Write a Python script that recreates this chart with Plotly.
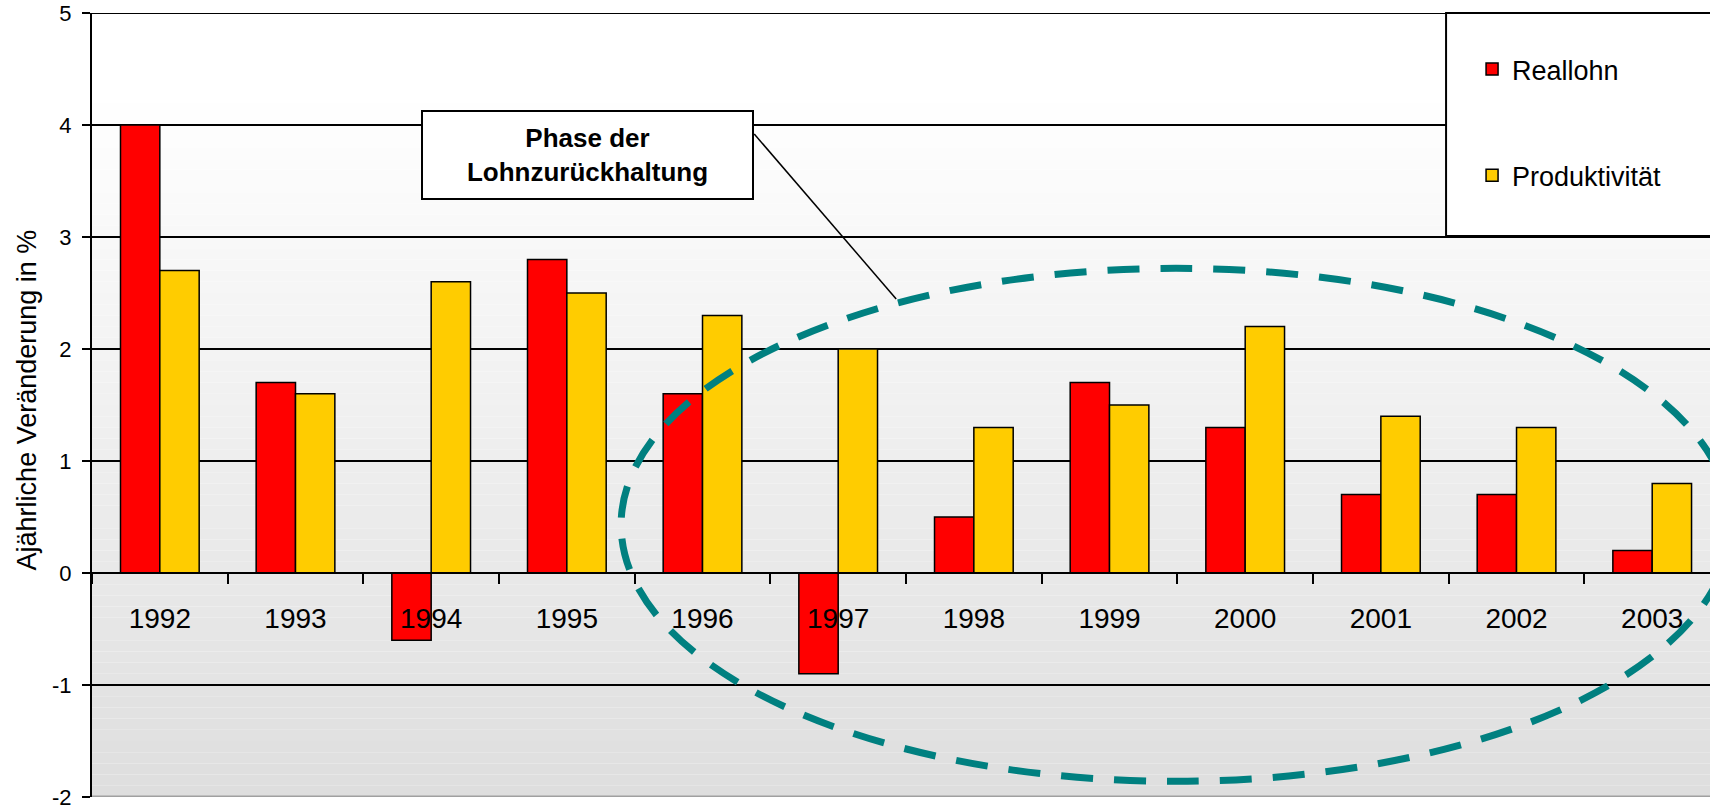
import plotly.graph_objects as go

years = ["1992", "1993", "1994", "1995", "1996", "1997", "1998", "1999", "2000", "2001", "2002", "2003"]
reallohn = [4.0, 1.7, -0.6, 2.8, 1.6, -0.9, 0.5, 1.7, 1.3, 0.7, 0.7, 0.2]
produktivitaet = [2.7, 1.6, 2.6, 2.5, 2.3, 2.0, 1.3, 1.5, 2.2, 1.4, 1.3, 0.8]
y_ticks = [-2, -1, 0, 1, 2, 3, 4, 5]

FONT = "Liberation Sans, Arial, sans-serif"
OFF = 0  # page body margin removed via post_script
W, H = 1710, 809
L, T, B, R = 91.6, 13, 12, 0
PW = W - L - R
PH = H - T - B


def px(xs):
    """screen x (reference pixels) -> paper fraction"""
    return (xs - OFF - L) / PW


def py(ys):
    """screen y (reference pixels) -> paper fraction"""
    return (H - B - (ys - OFF)) / PH


fig = go.Figure()
fig.add_trace(go.Bar(
    x=years, y=reallohn, name="Reallohn", legendgroup="a",
    marker=dict(color="#ff0000", line=dict(color="black", width=1.5)),
))
fig.add_trace(go.Bar(
    x=years, y=produktivitaet, name="Produktivität", legendgroup="b",
    marker=dict(color="#ffcc00", line=dict(color="black", width=1.5)),
))

shapes = []
# background gradient (white at top to light grey at bottom)
n = 70
ymin, ymax = -2.0, 5.0
for i in range(n):
    y0 = ymin + (ymax - ymin) * i / n
    y1 = ymin + (ymax - ymin) * (i + 1) / n
    ym = (y0 + y1) / 2
    frac = min(1.0, max(0.0, (ym - ymin) / (4.3 - ymin)))  # 0 bottom .. 1 near top
    c = int(round(222 + (255 - 222) * frac))
    shapes.append(dict(type="rect", xref="x domain", yref="y", x0=0, x1=1, y0=y0, y1=y1,
                       fillcolor=f"rgb({c},{c},{c})", line=dict(width=0), layer="below"))

# top and bottom borders of plot area
shapes.append(dict(type="line", xref="x domain", yref="y", x0=0, x1=1, y0=5, y1=5,
                   line=dict(color="black", width=2), layer="above"))
shapes.append(dict(type="line", xref="x domain", yref="y", x0=0, x1=1, y0=-2, y1=-2,
                   line=dict(color="#a0a0a0", width=3), layer="above"))

# dashed ellipse
shapes.append(dict(type="circle", xref="x", yref="y", x0=3.40, x1=11.58, y0=-1.86, y1=2.72,
                   line=dict(color="#008080", width=7, dash="32px,21px"), layer="above"))

# connector line from annotation box
shapes.append(dict(type="line", xref="paper", yref="paper",
                   x0=px(754), y0=py(134), x1=px(896), y1=py(299),
                   line=dict(color="black", width=1.5)))

# legend box
shapes.append(dict(type="rect", xref="paper", yref="paper",
                   x0=px(1446), x1=px(1725), y0=py(236), y1=py(13),
                   fillcolor="white", line=dict(color="black", width=2), layer="above"))

annotations = [
    dict(text="<b>Phase der</b><br><b>Lohnzurückhaltung</b>", xref="paper", yref="paper",
         x=px(587.5), y=py(155), xanchor="center", yanchor="middle", showarrow=False,
         font=dict(family=FONT, size=26, color="black"),
         bgcolor="white", bordercolor="black", borderwidth=2, borderpad=0,
         width=329, height=86, align="center"),
    dict(text="Ajährliche Veränderung in %", xref="paper", yref="paper",
         x=px(27), y=py(400), xanchor="center", yanchor="middle", showarrow=False,
         textangle=-90, font=dict(family=FONT, size=27, color="black")),
]

fig.update_layout(
    width=W, height=H,
    margin=dict(l=L, r=R, t=T, b=B, pad=0, autoexpand=False),
    paper_bgcolor="white", plot_bgcolor="white",
    barmode="group", bargap=0.42, bargroupgap=0.0,
    font=dict(family=FONT, color="black"),
    shapes=shapes, annotations=annotations,
    legend=dict(x=px(1472), y=py(45), xanchor="left", yanchor="top",
                bgcolor="rgba(0,0,0,0)", borderwidth=0,
                font=dict(family=FONT, size=27, color="black"),
                tracegroupgap=68, traceorder="grouped"),
    xaxis=dict(
        type="category", range=[-0.5, 11.426], anchor="free",
        position=(0 - ymin) / (ymax - ymin), automargin=False,
        showline=True, linecolor="black", linewidth=2,
        ticks="outside", tickson="boundaries", ticklen=10, tickcolor="black", tickwidth=1.5,
        ticklabelstandoff=20,
        tickfont=dict(family=FONT, size=28, color="black"),
        showgrid=False, zeroline=False,
    ),
    yaxis=dict(
        range=[ymin, ymax], tickvals=y_ticks, ticktext=[str(v) for v in y_ticks],
        automargin=False,
        showline=True, linecolor="black", linewidth=2,
        ticks="outside", ticklen=8, tickcolor="black", tickwidth=1.5,
        ticklabelstandoff=6, ticklabeloverflow="allow",
        tickfont=dict(family=FONT, size=22, color="black"),
        showgrid=True, gridcolor="black", gridwidth=1.5,
        zeroline=True, zerolinecolor="black", zerolinewidth=2,
    ),
)

fig.write_html(
    "out.html",
    config={"displayModeBar": False},
    post_script="document.body.style.margin='0px'; document.body.style.overflow='hidden';",
)
